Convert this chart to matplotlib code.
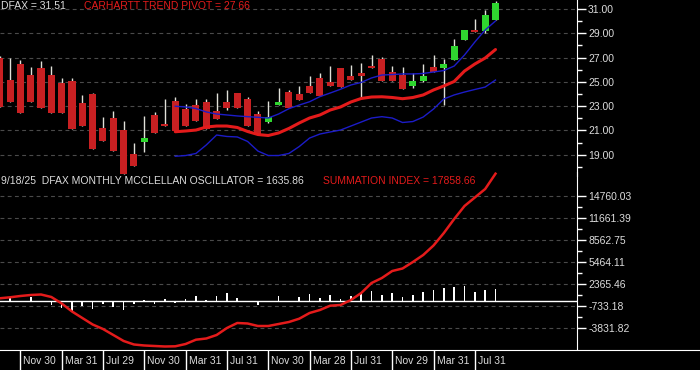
import numpy as np
import matplotlib
matplotlib.use("Agg")
import matplotlib.pyplot as plt

plt.rcParams['font.family'] = ['Liberation Sans', 'DejaVu Sans']

# monthly DFAX candles, Sep 2021 .. Sep 2025
opens = [26.99, 25.15, 26.47, 25.56, 26.12, 25.56, 24.88, 25.09, 23.28, 23.97,
         21.22, 22.05, 21.03, 19.06, 20.07, 22.27, 21.54, 23.42, 22.76, 23.09,
         23.36, 22.60, 23.36, 24.11, 23.56, 22.35, 21.72, 23.09, 24.19, 24.00,
         24.66, 25.34, 24.96, 26.16, 25.48, 25.70, 26.33, 26.88, 25.84, 25.56,
         24.68, 25.09, 26.25, 26.16, 26.80, 28.45, 29.27, 29.19, 30.09]
closes = [22.95, 23.36, 22.46, 23.36, 22.87, 22.46, 22.41, 21.09, 21.36, 19.47,
          20.15, 19.33, 17.41, 18.10, 20.40, 20.81, 21.33, 20.98, 21.39, 21.80,
          21.09, 21.91, 22.87, 22.82, 21.36, 20.62, 22.08, 23.36, 22.87, 23.50,
          24.07, 23.86, 24.68, 24.60, 25.15, 25.51, 26.16, 25.09, 25.09, 24.41,
          25.07, 25.48, 25.84, 26.47, 27.95, 29.27, 29.08, 30.51, 31.51]
highs = [27.15, 26.94, 26.80, 26.20, 26.72, 26.30, 25.29, 25.29, 23.92, 24.11,
         22.13, 22.62, 21.77, 19.99, 22.19, 22.49, 23.56, 23.73, 23.17, 23.56,
         23.59, 24.11, 24.33, 24.11, 23.73, 22.62, 23.42, 24.52, 24.30, 24.68,
         25.48, 25.70, 26.30, 26.16, 26.39, 26.58, 27.21, 27.02, 26.33, 26.25,
         25.70, 26.47, 27.21, 26.86, 28.50, 29.30, 30.18, 30.92, 31.65]
lows = [22.95, 23.36, 22.46, 23.36, 22.87, 22.46, 22.41, 21.09, 21.36, 19.47,
        20.15, 19.33, 17.41, 18.10, 19.18, 20.81, 21.33, 20.98, 21.39, 21.80,
        21.09, 21.91, 22.70, 22.82, 21.36, 20.62, 21.60, 23.09, 22.87, 23.50,
        24.07, 23.86, 24.68, 24.60, 25.15, 23.78, 26.16, 25.09, 25.09, 24.41,
        24.50, 25.00, 25.84, 23.09, 26.80, 28.45, 29.08, 29.00, 30.09]

# trend pivot and bands start at month 17
band_start = 17
pivot = [20.89, 20.95, 21.03, 21.28, 21.36, 21.36, 21.24, 20.91, 20.66, 20.58,
         20.79, 21.16, 21.61, 22.02, 22.27, 22.68, 22.93, 23.34, 23.63, 23.75,
         23.77, 23.71, 23.61, 23.71, 23.92, 24.33, 24.66, 25.03, 25.89, 26.47,
         26.96, 27.66]
upper_band = [22.99, 22.93, 22.80, 22.52, 22.35, 22.27, 22.19, 22.13, 22.08, 22.02,
              22.35, 22.79, 23.09, 23.36, 23.78, 24.08, 24.39, 24.74, 24.95, 25.32,
              25.56, 25.60, 25.65, 25.65, 25.69, 25.81, 25.93, 26.30, 27.21, 28.28,
              29.27, 30.01]
lower_band = [18.87, 18.93, 19.10, 19.80, 20.62, 20.50, 20.46, 20.09, 19.30, 18.93,
              18.93, 19.10, 19.67, 20.37, 20.70, 20.87, 21.03, 21.36, 21.69, 22.02,
              22.13, 22.02, 21.65, 21.73, 22.10, 22.76, 23.59, 23.92, 24.16, 24.37,
              24.57, 25.15]

oscillator = [0, 470, -187, 470, -187, -656, -1030, -1500, -796, -1124,
              -468, -937, -1265, -468, 140, -468, 281, -328, 281, 703,
              140, 703, 1124, 375, -140, -562, 0, 609, 0, 468,
              937, 328, 796, 234, 703, 1077, 1311, 796, 1077, 468,
              843, 1171, 1500, 1733, 1874, 2108, 1265, 1546, 1635.86]
summation = [351, 492, 674, 815, 885, 534, -379, -1503, -2417, -3330,
             -3962, -4805, -5648, -6140, -6280, -6351, -6421, -6393, -6070, -5465,
             -5297, -4805, -3822, -3119, -3189, -3541, -3541, -3260, -2979, -2515,
             -1714, -1293, -688, -590, 112, 1096, 2501, 3203, 4187, 4538,
             5451, 6435, 7770, 9526, 11493, 13319, 14514, 15708, 17858.66]

price_ticks = [19, 21, 23, 25, 27, 29, 31]
osc_ticks = [14760.03, 11661.39, 8562.75, 5464.11, 2365.46, -733.18, -3831.82]
date_idx = [2, 6, 10, 14, 18, 22, 26, 30, 34, 38, 42, 46]
date_labels = ["Nov 30", "Mar 31", "Jul 29", "Nov 30", "Mar 31", "Jul 31",
               "Nov 30", "Mar 28", "Jul 31", "Nov 29", "Mar 31", "Jul 31"]

W, H = 700, 370
fig = plt.figure(figsize=(7, 3.7), dpi=100, facecolor='black')

def px_axes(x0, y0, x1, y1):
    return fig.add_axes([x0 / W, 1 - y1 / H, (x1 - x0) / W, (y1 - y0) / H])

txt = '#dcdcdc'
red = '#e41b1b'
grid = dict(color='#4a4a4a', lw=0.8, ls=(0, (3.5, 3)))
xlim = (0.03, 55.89)

ax1 = px_axes(0, 0, 577, 176)
ax2 = px_axes(0, 172, 577, 350)
for ax in (ax1, ax2):
    ax.set_facecolor('none')
    ax.set_xlim(*xlim)
    for s in ('top', 'left', 'bottom'):
        ax.spines[s].set_visible(False)
    ax.spines['right'].set_color('white')
    ax.yaxis.tick_right()
    ax.tick_params(axis='y', which='major', colors='white', length=6.5, width=1,
                   labelsize=7.5, labelcolor=txt, pad=1.5)
    ax.tick_params(axis='y', which='minor', colors='white', length=3.5, width=1)
    ax.set_xticks([])
ax2.patch.set_visible(False)

# price panel
x = np.arange(len(opens))
o, c = np.array(opens), np.array(closes)
up = c >= o
ax1.set_ylim(17.244, 31.74)
ax1.set_yticks(price_ticks)
ax1.set_yticks(np.arange(18, 31, 2), minor=True)
ax1.set_yticklabels(['%.2f' % t for t in price_ticks])
for t in price_ticks:
    ax1.axhline(t, zorder=0, **grid)
ax1.vlines(x, lows, highs, color='#e0e0d8', lw=1, zorder=2)
ax1.bar(x, np.abs(c - o), bottom=np.minimum(o, c), width=0.68,
        color=np.where(up, '#2fd62f', '#c82022'), zorder=3)
xb = np.arange(band_start, band_start + len(pivot))
ax1.plot(xb, upper_band, color='#1c1cc8', lw=1, zorder=4)
ax1.plot(xb, lower_band, color='#1c1cc8', lw=1, zorder=4)
ax1.plot(xb, pivot, color=red, lw=2.2, zorder=4, solid_capstyle='round')

# oscillator panel
ax2.set_ylim(-6913, 18096)
ax2.set_yticks(osc_ticks)
ax2.set_yticks([(a + b) / 2 for a, b in zip(osc_ticks[:-1], osc_ticks[1:])], minor=True)
ax2.set_yticklabels(['%.2f' % t for t in osc_ticks])
for t in osc_ticks:
    ax2.axhline(t, zorder=0, **grid)
ax2.axhline(0, color='white', lw=1, zorder=2)
ax2.bar(x, oscillator, width=0.16, color='white', zorder=3)
ax2.plot(x, summation, color=red, lw=1.8, zorder=4)

# date strip
ax3 = px_axes(0, 350, 700, 370)
ax3.set_facecolor('black')
ax3.set_xlim(xlim[0], xlim[0] + 700 / 10.33)
ax3.set_ylim(0, 1)
for s in ('left', 'right', 'bottom'):
    ax3.spines[s].set_visible(False)
ax3.spines['top'].set_color('white')
ax3.set_xticks([])
ax3.set_yticks([])
for i, lab in zip(date_idx, date_labels):
    ax3.axvline(i, color='white', lw=1)
    ax3.text(i + 0.3, 0.45, lab, color=txt, fontsize=7.5, va='center', ha='left')

# header texts
def label(xp, yp, s, col):
    fig.text(xp / W, 1 - yp / H, s, color=col, fontsize=7.5, va='center', ha='left')

label(1, 6, "DFAX = 31.51", txt)
label(84, 6, "CARHARTT TREND PIVOT = 27.66", red)
label(1, 181, "9/18/25  DFAX MONTHLY MCCLELLAN OSCILLATOR = 1635.86", txt)
label(323, 181, "SUMMATION INDEX = 17858.66", red)

fig.savefig('out.png', dpi=100, facecolor='black')
